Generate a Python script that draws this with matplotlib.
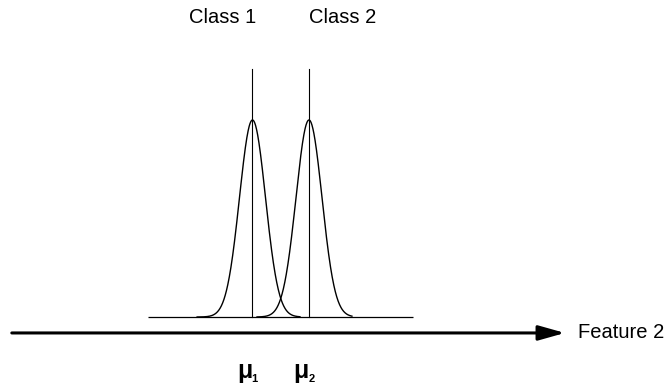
import numpy as np
import matplotlib
matplotlib.use("Agg")
import matplotlib.pyplot as plt

# Two class-conditional distributions along Feature 2
class_labels = ["Class 1", "Class 2"]
class_means = [2.0, 3.0]
class_sigma = [0.23, 0.23]
peak_height = [1.0, 1.0]
# extent of each drawn curve relative to its mean (left, right)
curve_span = [(-0.98, 0.84), (-0.92, 0.76)]
mean_labels = ["1", "2"]
axis_label = "Feature 2"

# baseline under the curves and the feature axis
baseline_x = [0.15, 4.84]
axis_x = [-2.26, 7.53]
axis_y = -0.081
stem_top = 1.259

plt.rcParams["font.family"] = ["Liberation Sans", "DejaVu Sans"]

fig = plt.figure(figsize=(6.69, 3.88), dpi=100)
ax = fig.add_axes([0, 0, 1, 1])
ax.set_xlim(-2.469, 9.372)
ax.set_ylim(-0.3604, 1.609)
ax.axis("off")

# baseline
ax.plot(baseline_x, [0, 0], color="black", lw=0.9, solid_capstyle="butt")

for mu, sd, h, (lo, hi) in zip(class_means, class_sigma, peak_height, curve_span):
    x = np.linspace(mu + lo, mu + hi, 400)
    y = h * np.exp(-0.5 * ((x - mu) / sd) ** 2)
    ax.plot(x, y, color="black", lw=1.0)
    ax.plot([mu, mu], [0, stem_top], color="black", lw=0.8)

# class names above the stems
ax.text(1.47, 1.52, class_labels[0], ha="center", va="center", fontsize=14.5)
ax.text(3.60, 1.52, class_labels[1], ha="center", va="center", fontsize=14.5)

# feature axis with arrow
ax.annotate("", xy=(axis_x[1], axis_y), xytext=(axis_x[0], axis_y),
            arrowprops=dict(arrowstyle="-|>,head_length=1.6,head_width=0.45",
                            lw=2.2, color="black", shrinkA=0, shrinkB=0))
ax.text(7.76, axis_y, axis_label, ha="left", va="center", fontsize=14.5)

# mean markers below the axis
for mu, sub in zip(class_means, mean_labels):
    ax.text(mu - 0.14, -0.275, "\u03bc", ha="center", va="center",
            fontsize=18, fontweight="bold")
    ax.text(mu + 0.04, -0.315, sub, ha="center", va="center",
            fontsize=8, fontweight="bold")

fig.savefig("out.png", dpi=100)
